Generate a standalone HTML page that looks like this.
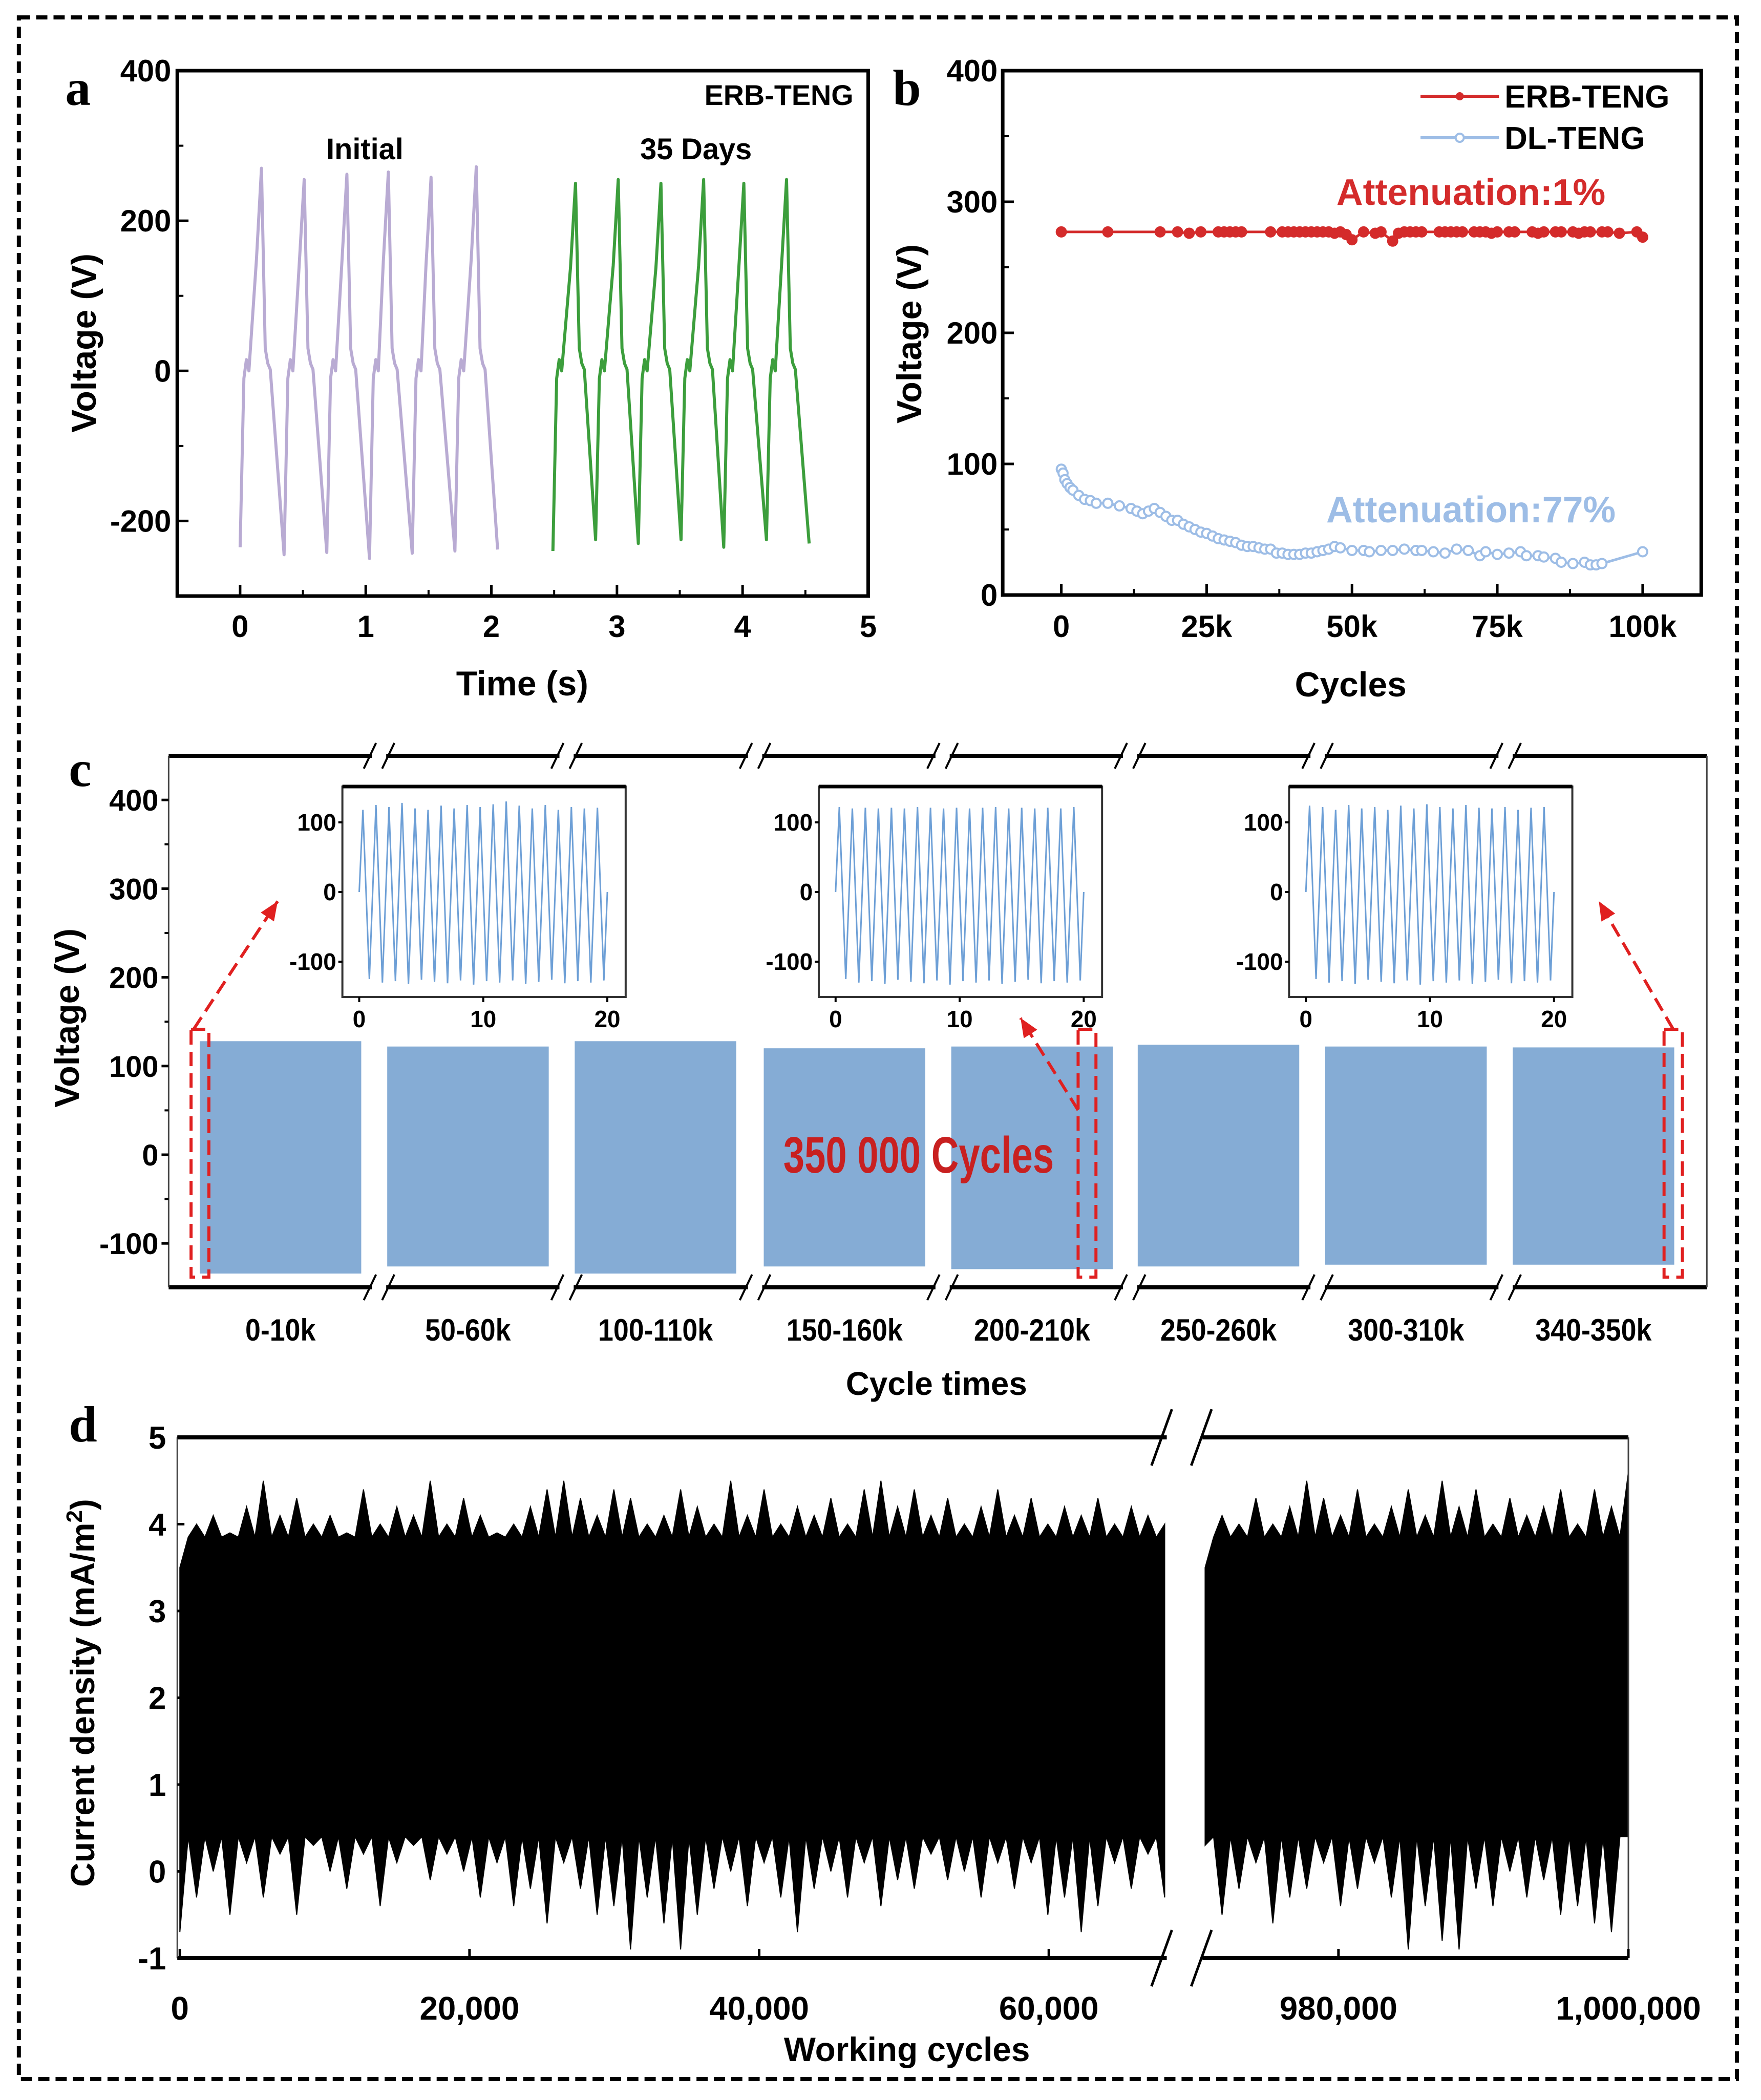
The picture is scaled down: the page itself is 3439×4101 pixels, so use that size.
<!DOCTYPE html>
<html><head><meta charset="utf-8"><style>
html,body{margin:0;padding:0;background:#fff;}
svg{display:block;}
text{font-family:"Liberation Sans",Arial,sans-serif;font-weight:bold;}
.pl{font-family:"Liberation Serif",serif;font-weight:bold;font-size:100px;}
</style></head><body>
<svg id="fig" width="3439" height="4101" viewBox="0 0 3439 4101" xmlns="http://www.w3.org/2000/svg">
<g transform="scale(0.995,1)">
<rect x="37" y="34" width="3372" height="4026" fill="none" stroke="#000" stroke-width="8" stroke-dasharray="22,12"/>
<text class="pl" x="128" y="205">a</text>
<text class="pl" x="1752" y="205">b</text>
<text class="pl" x="135" y="1535">c</text>
<text class="pl" x="135" y="2815">d</text>
<g id="ga"></g>
<g id="gb"></g>
<g id="gc"></g>
<g id="gd"></g>
</g>
</svg>
<script>
// ---------- Panel a data ----------
const aInitTroughT=[0,0.35,0.69,1.03,1.37,1.71,2.05];
const aInitTroughV=[-235,-245,-242,-250,-243,-240,-238];
const aInitPeakT=[0.17,0.51,0.85,1.18,1.52,1.88];
const aInitPeakV=[270,255,262,265,258,272];
const aDayTroughT=[2.49,2.83,3.17,3.51,3.85,4.19,4.53];
const aDayTroughV=[-240,-225,-230,-225,-235,-225,-230];
const aDayPeakT=[2.67,3.01,3.35,3.69,4.01,4.35];
const aDayPeakV=[250,255,250,255,250,255];
const aXTicks=[0,1,2,3,4,5];
const aYTicks=[-200,0,200,400];
// ---------- Panel b data ----------
const bErbX=[0,8,17,20,22,24,27,28,29,30,31,36,38,39,40,41,42,43,44,45,46,47,48,49,50,52,54,55,57,58,59,60,61,62,65,66,67,68,69,71,72,73,74,75,77,78,81,82,83,85,86,88,89,90,91,93,94,96,99,100];
const bErbV=[277,277,277,277,276,277,277,277,277,277,277,277,277,277,277,277,277,277,277,277,277,276,277,275,271,277,276,277,270,276,277,277,277,277,277,277,277,277,277,277,277,277,276,277,277,277,277,276,277,277,277,277,276,277,277,277,277,276,277,273];
const bDlX=[0,0.3,0.6,1,1.5,2,3,4,5,6,8,10,12,13,14,15,16,17,18,19,20,21,22,23,24,25,26,27,28,29,30,31,32,33,34,35,36,37,38,39,40,41,42,43,44,45,46,47,48,50,52,53,55,57,59,61,62,64,66,68,70,72,73,75,77,79,80,82,83,85,86,88,90,91,92,93,100];
const bDlV=[96,93,88,85,82,80,76,73,72,70,70,68,66,64,62,64,66,63,60,57,57,54,52,50,48,47,45,43,42,41,40,38,37,37,36,35,35,32,32,31,31,31,32,32,33,34,35,37,36,34,34,33,34,34,35,34,34,33,32,35,34,30,33,31,32,33,30,30,29,28,25,24,25,23,23,24,33];
const bXTicks=[0,25,50,75,100];
const bXLabels=["0","25k","50k","75k","100k"];
const bYTicks=[0,100,200,300,400];
// ---------- Panel c data ----------
const cGroups=["0-10k","50-60k","100-110k","150-160k","200-210k","250-260k","300-310k","340-350k"];
const cTop=[128,122,128,120,122,124,122,121];
const cBot=[-134,-126,-134,-126,-129,-126,-124,-124];
const cYTicks=[-100,0,100,200,300,400];
const cInset1Peaks=[118,125,122,128,120,118,124,120,125,122,126,130,124,120,125,118,122,120,121];
const cInset2Peaks=[122,120,121,120,121,120,122,121,120,121,120,121,122,120,121,120,121,120,122];
const cInset3Peaks=[124,122,118,125,120,122,118,124,120,126,122,120,125,121,120,122,118,121,122];
const cInsetTroughs=[-125,-130,-128,-132,-126,-129,-131,-127,-133,-128,-130,-127,-132,-129,-126,-131,-128,-130,-127];
const cInsetTicks=[0,10,20];
const cInsetYTicks=[-100,0,100];
// ---------- Panel d data ----------
const dLeftUpper=[3.5,4.0,4.1,3.9,4.2,4.5,4.1,4.3,4.0,4.1,3.9,4.4,4.0,4.2,4.1,4.5,4.0,4.3,4.1,3.9,4.0,4.2,4.4,4.5,4.3,4.1,4.4,4.3,4.0,4.1,4.4,4.2,4.0,4.5,4.1,4.4,4.0,4.2,4.1,4.3,4.0,4.4,4.5,4.2,4.4,4.1,4.3,4.0,4.2,4.4,4.1,4.3,4.0,4.2,4.1,4.3,4.0,4.2,4.1,4.0];
const dLeftLower=[-0.7,-0.3,0.0,-0.5,0.1,-0.3,0.2,-0.5,0.3,0.0,-0.2,0.2,-0.4,0.1,0.3,-0.1,0.2,0.0,-0.3,0.1,-0.4,-0.2,-0.6,0.1,-0.2,-0.5,-0.4,-0.9,-0.3,-0.6,-0.9,-0.5,-0.2,0.0,-0.4,0.1,-0.3,-0.7,-0.2,0.0,-0.3,0.1,-0.4,-0.1,-0.2,0.2,-0.1,0.0,-0.3,0.1,-0.2,0.1,-0.5,-0.3,-0.7,-0.4,0.1,-0.2,0.2,-0.3];
const dRightUpper=[3.5,4.1,4.0,4.3,4.0,4.2,4.5,4.3,4.1,4.4,4.0,4.2,4.4,4.1,4.5,4.2,4.4,4.0,4.3,4.1,4.2,4.4,4.0,4.4,4.2,4.6];
const dRightLower=[0.3,-0.5,-0.2,0.1,-0.6,-0.3,-0.2,0.1,-0.4,-0.2,0.1,-0.3,-0.9,-0.4,-0.8,-0.9,-0.2,-0.4,0.0,-0.3,-0.1,-0.5,-0.4,-0.6,-0.7,0.4];
const dBaseTop=3.85, dBaseBot=0.4;
const dLeftRange=[0,68000], dRightRange=[970800,1000000];
const dXTicks=[0,20000,40000,60000,980000,1000000];
const dXLabels=["0","20,000","40,000","60,000","980,000","1,000,000"];
const dYTicks=[-1,0,1,2,3,4,5];

const NS="http://www.w3.org/2000/svg";
function mk(parent,tag,attrs,txt){const e=document.createElementNS(NS,tag);for(const k in attrs)e.setAttribute(k,attrs[k]);if(txt!==undefined)e.textContent=txt;parent.appendChild(e);return e;}

// ================= Panel a =================
(function(){
const g=document.getElementById('ga');
const L=348,R=1704,T=138,B=1164;
const x=t=>L+(t+0.5)/5.5*(R-L);
const y=v=>B-(v+300)/700*(B-T);
function wave(tT,tV,pT,pV,col,name){
  let d=`M${x(tT[0])},${y(tV[0])}`;
  for(let i=0;i<pT.length;i++){
    const tr=tT[i],pk=pT[i];
    d+=` L${x(tr+0.03)},${y(-10)} L${x(tr+0.05)},${y(15)} L${x(tr+0.07)},${y(0)} L${x(pk-0.04)},${y(pV[i]*0.55)} L${x(pk)},${y(pV[i])} L${x(pk+0.03)},${y(30)} L${x(pk+0.05)},${y(10)} L${x(pk+0.07)},${y(2)} L${x(tT[i+1])},${y(tV[i+1])}`;
  }
  const p=mk(g,'path',{d:d,fill:'none',stroke:col,'stroke-width':6,'stroke-linejoin':'round'});
  
  
}
wave(aInitTroughT,aInitTroughV,aInitPeakT,aInitPeakV,'#b9abd3','initial-waveform');
wave(aDayTroughT,aDayTroughV,aDayPeakT,aDayPeakV,'#3c9e3c','35-days-waveform');
const fr=mk(g,'rect',{x:L,y:T,width:R-L,height:B-T,fill:'none',stroke:'#000','stroke-width':7});


aXTicks.forEach(t=>{
  mk(g,'line',{x1:x(t),x2:x(t),y1:B,y2:B-22,stroke:'#000','stroke-width':5});
  if(t<5)mk(g,'line',{x1:x(t+0.5),x2:x(t+0.5),y1:B,y2:B-12,stroke:'#000','stroke-width':4});
  const tx=mk(g,'text',{x:x(t),y:1244,'font-size':60,'text-anchor':'middle'},String(t));
  
  
});
aYTicks.forEach(v=>{
  mk(g,'line',{x1:L,x2:L+22,y1:y(v),y2:y(v),stroke:'#000','stroke-width':5});
  const tx=mk(g,'text',{x:L-12,y:y(v)+21,'font-size':60,'text-anchor':'end'},String(v));
  
  
});
[-100,100,300].forEach(v=>mk(g,'line',{x1:L,x2:L+12,y1:y(v),y2:y(v),stroke:'#000','stroke-width':4}));
let t1=mk(g,'text',{x:1025,y:1358,'font-size':68,'text-anchor':'middle'},'Time (s)');

let t2=mk(g,'text',{x:0,y:0,'font-size':68,'text-anchor':'middle',transform:'translate(188,670) rotate(-90)'},'Voltage (V)');

let t3=mk(g,'text',{x:1675,y:205,'font-size':56,'text-anchor':'end'},'ERB-TENG');

let t4=mk(g,'text',{x:716,y:311,'font-size':58,'text-anchor':'middle'},'Initial');

let t5=mk(g,'text',{x:1366,y:311,'font-size':58,'text-anchor':'middle'},'35 Days');

})();

// ================= Panel b =================
(function(){
const g=document.getElementById('gb');
const L=1968,R=3339,T=138,B=1162;
const x=k=>2083+k*(3224-2083)/100;
const y=v=>B-v/400*(B-T);
function series(X,V,col,fill,name){
  const d=X.map((k,i)=>(i?'L':'M')+x(k)+','+y(V[i])).join(' ');
  const p=mk(g,'path',{d:d,fill:'none',stroke:col,'stroke-width':5});
  
  
  X.forEach((k,i)=>{
    const c=mk(g,'circle',{cx:x(k),cy:y(V[i]),r:9,fill:fill,stroke:col,'stroke-width':4});
    
    
  });
}
series(bErbX,bErbV,'#d42b2b','#d42b2b','erb-teng');
series(bDlX,bDlV,'#9dbde6','#fff','dl-teng');
const fr=mk(g,'rect',{x:L,y:T,width:R-L,height:B-T,fill:'none',stroke:'#000','stroke-width':7});


bXTicks.forEach((k,i)=>{
  mk(g,'line',{x1:x(k),x2:x(k),y1:B,y2:B-22,stroke:'#000','stroke-width':5});
  if(k<100)mk(g,'line',{x1:x(k+12.5),x2:x(k+12.5),y1:B,y2:B-12,stroke:'#000','stroke-width':4});
  const tx=mk(g,'text',{x:x(k),y:1244,'font-size':60,'text-anchor':'middle'},bXLabels[i]);
  
  
});
bYTicks.forEach(v=>{
  mk(g,'line',{x1:L,x2:L+22,y1:y(v),y2:y(v),stroke:'#000','stroke-width':5});
  if(v<400)mk(g,'line',{x1:L,x2:L+12,y1:y(v+50),y2:y(v+50),stroke:'#000','stroke-width':4});
  const tx=mk(g,'text',{x:L-10,y:y(v)+21,'font-size':60,'text-anchor':'end'},String(v));
  
  
});
let t1=mk(g,'text',{x:2651,y:1360,'font-size':68,'text-anchor':'middle'},'Cycles');

let t2=mk(g,'text',{x:0,y:0,'font-size':68,'text-anchor':'middle',transform:'translate(1808,652) rotate(-90)'},'Voltage (V)');

mk(g,'line',{x1:2788,x2:2942,y1:188,y2:188,stroke:'#d42b2b','stroke-width':6});
mk(g,'circle',{cx:2865,cy:188,r:8,fill:'#d42b2b'});
let l1=mk(g,'text',{x:2953,y:210,'font-size':62},'ERB-TENG');

mk(g,'line',{x1:2788,x2:2942,y1:269,y2:269,stroke:'#9dbde6','stroke-width':6});
mk(g,'circle',{cx:2865,cy:269,r:8,fill:'#fff',stroke:'#9dbde6','stroke-width':4});
let l2=mk(g,'text',{x:2953,y:291,'font-size':62},'DL-TENG');

let a1=mk(g,'text',{x:2887,y:400,'font-size':72,'text-anchor':'middle',fill:'#d42b2b'},'Attenuation:1%');

let a2=mk(g,'text',{x:2887,y:1020,'font-size':72,'text-anchor':'middle',fill:'#9dbde6'},'Attenuation:77%');

})();

// ================= Panel c =================
(function(){
const g=document.getElementById('gc');
const L=331,R=3350,T=1476,B=2514;
const y=v=>2255-v*1.732;
const blockL=[392,760,1128,1499,1867,2233,2601,2969], bw=317;
const breaks=[744,1112,1482,1850,2218,2586,2955];
cGroups.forEach((name,i)=>{
  const r=mk(g,'rect',{x:blockL[i],y:y(cTop[i]),width:bw,height:y(cBot[i])-y(cTop[i]),fill:'#85acd5'});
  
  
  const tx=mk(g,'text',{x:blockL[i]+bw/2,y:2618,'font-size':60,'text-anchor':'middle',transform:`translate(${(blockL[i]+bw/2)*0.1},0) scale(0.9,1)`},name);
  
  
});
mk(g,'line',{x1:L,x2:R,y1:T,y2:T,stroke:'#000','stroke-width':8});
mk(g,'line',{x1:L,x2:R,y1:B,y2:B,stroke:'#000','stroke-width':8});
mk(g,'line',{x1:L,x2:L,y1:T,y2:B,stroke:'#444','stroke-width':3});
mk(g,'line',{x1:R,x2:R,y1:T,y2:B,stroke:'#444','stroke-width':3});
breaks.forEach(bx=>{
  [T,B].forEach(yy=>{
    mk(g,'rect',{x:bx-14,y:yy-6,width:28,height:12,fill:'#fff'});
    mk(g,'line',{x1:bx-30,x2:bx-6,y1:yy+25,y2:yy-25,stroke:'#000','stroke-width':4});
    mk(g,'line',{x1:bx+6,x2:bx+30,y1:yy+25,y2:yy-25,stroke:'#000','stroke-width':4});
  });
});
cYTicks.forEach(v=>{
  mk(g,'line',{x1:L-14,x2:L,y1:y(v),y2:y(v),stroke:'#000','stroke-width':5});
  if(v<400)mk(g,'line',{x1:L-8,x2:L,y1:y(v+50),y2:y(v+50),stroke:'#000','stroke-width':4});
  const tx=mk(g,'text',{x:L-20,y:y(v)+21,'font-size':58,'text-anchor':'end'},String(v));
  
  
});
let t1=mk(g,'text',{x:1838,y:2724,'font-size':64,'text-anchor':'middle'},'Cycle times');

let t2=mk(g,'text',{x:0,y:0,'font-size':68,'text-anchor':'middle',transform:'translate(155,1988) rotate(-90)'},'Voltage (V)');

// insets
const insets=[[672,cInset1Peaks],[1607,cInset2Peaks],[2530,cInset3Peaks]];
insets.forEach(([fx,peaks],k)=>{
  const iT=1536,iB=1947;
  const ix=t=>fx+33+t*(487/20);
  const iy=v=>1742-v*1.36;
  let d=`M${ix(0)},${iy(0)}`;
  peaks.forEach((p,i)=>{
    d+=` L${ix(0.3+i*1.05)},${iy(p)} L${ix(0.82+i*1.05)},${iy(cInsetTroughs[i])}`;
  });
  d+=` L${ix(20)},${iy(0)}`;
  const pth=mk(g,'path',{d:d,fill:'none',stroke:'#6d9fd6','stroke-width':3});
  
  
  const fr=mk(g,'rect',{x:fx,y:iT,width:556,height:iB-iT,fill:'none',stroke:'#333','stroke-width':4});
  
  
  mk(g,'line',{x1:fx,x2:fx+556,y1:iT,y2:iT,stroke:'#000','stroke-width':7});
  cInsetTicks.forEach(t=>{
    mk(g,'line',{x1:ix(t),x2:ix(t),y1:iB,y2:iB+10,stroke:'#000','stroke-width':4});
    const tx=mk(g,'text',{x:ix(t),y:2006,'font-size':46,'text-anchor':'middle'},String(t));
    
    
  });
  cInsetYTicks.forEach(v=>{
    mk(g,'line',{x1:fx-8,x2:fx,y1:iy(v),y2:iy(v),stroke:'#000','stroke-width':4});
    const tx=mk(g,'text',{x:fx-12,y:iy(v)+16,'font-size':46,'text-anchor':'end'},String(v));
    
    
  });
});
// red dashed boxes and arrows
[[375,410],[2116,2151],[3266,3302]].forEach(([a,b])=>{
  const r=mk(g,'rect',{x:a,y:2010,width:b-a,height:484,fill:'none',stroke:'#e02020','stroke-width':6,'stroke-dasharray':'28,14'});
  
  
});
function arrow(x1,y1,x2,y2){
  mk(g,'line',{x1:x1,y1:y1,x2:x2,y2:y2,stroke:'#e02020','stroke-width':6,'stroke-dasharray':'28,14'});
  const ang=Math.atan2(y2-y1,x2-x1),s=40;
  const p1=[x2-s*Math.cos(ang-0.4),y2-s*Math.sin(ang-0.4)],p2=[x2-s*Math.cos(ang+0.4),y2-s*Math.sin(ang+0.4)];
  mk(g,'polygon',{points:`${x2},${y2} ${p1} ${p2}`,fill:'#e02020'});
}
arrow(380,2010,545,1760);
arrow(3284,2010,3138,1760);
arrow(2116,2168,2003,1988);
let rt=mk(g,'text',{x:1803,y:2290,'font-size':100,'text-anchor':'middle',fill:'#c82020',textLength:531,lengthAdjust:'spacingAndGlyphs'},'350 000 Cycles');

})();

// ================= Panel d =================
(function(){
const g=document.getElementById('gd');
const L=348,R=3196,T=2807,B=3824;
const x=v=>v<500000?353+v*(568.5/20000):2627+(v-980000)*(569/20000);
const y=v=>B-(v+1)/6*(B-T);
function band(U,Lo,range,name){
  const n=U.length,step=(range[1]-range[0])/(n-1);
  let top=[],bot=[];
  U.forEach((u,i)=>{const xv=range[0]+i*step;top.push([x(xv),y(u)]);if(i<n-1)top.push([x(xv+step/2),y(dBaseTop)]);});
  Lo.forEach((l,i)=>{const xv=range[0]+i*step;bot.push([x(xv),y(l)]);if(i<n-1)bot.push([x(xv+step/2),y(dBaseBot)]);});
  const pts=top.concat(bot.reverse()).map(p=>p.join(',')).join(' ');
  const p=mk(g,'polygon',{points:pts,fill:'#000',stroke:'#000','stroke-width':2});
  
  
}
band(dLeftUpper,dLeftLower,dLeftRange,'current-signal-left');
band(dRightUpper,dRightLower,dRightRange,'current-signal-right');
mk(g,'line',{x1:L,x2:R,y1:T,y2:T,stroke:'#000','stroke-width':8});
mk(g,'line',{x1:L,x2:R,y1:B,y2:B,stroke:'#000','stroke-width':8});
mk(g,'line',{x1:L,x2:L,y1:T,y2:B,stroke:'#444','stroke-width':3});
mk(g,'line',{x1:R,x2:R,y1:T,y2:B,stroke:'#444','stroke-width':3});
[T,B].forEach(yy=>{
  mk(g,'rect',{x:2290,y:yy-8,width:70,height:16,fill:'#fff'});
  mk(g,'line',{x1:2260,x2:2300,y1:yy+55,y2:yy-55,stroke:'#000','stroke-width':5});
  mk(g,'line',{x1:2338,x2:2378,y1:yy+55,y2:yy-55,stroke:'#000','stroke-width':5});
});
dXTicks.forEach((v,i)=>{
  mk(g,'line',{x1:x(v),x2:x(v),y1:B,y2:B-18,stroke:'#000','stroke-width':5});
  const tx=mk(g,'text',{x:x(v),y:3944,'font-size':64,'text-anchor':'middle'},dXLabels[i]);
  
  
});
dYTicks.forEach(v=>{
  mk(g,'line',{x1:L,x2:L+14,y1:y(v),y2:y(v),stroke:'#000','stroke-width':5});
  const tx=mk(g,'text',{x:L-22,y:y(v)+22,'font-size':62,'text-anchor':'end'},String(v));
  
  
});
let t1=mk(g,'text',{x:1780,y:4025,'font-size':66,'text-anchor':'middle'},'Working cycles');

let t2=mk(g,'text',{x:0,y:0,'font-size':66,'text-anchor':'middle',transform:'translate(185,3306) rotate(-90)'});

t2.appendChild(document.createTextNode('Current density (mA/m'));
mk(t2,'tspan',{'font-size':44,dy:-24},'2');
mk(t2,'tspan',{dy:24},')');
})();
</script>
</body></html>
